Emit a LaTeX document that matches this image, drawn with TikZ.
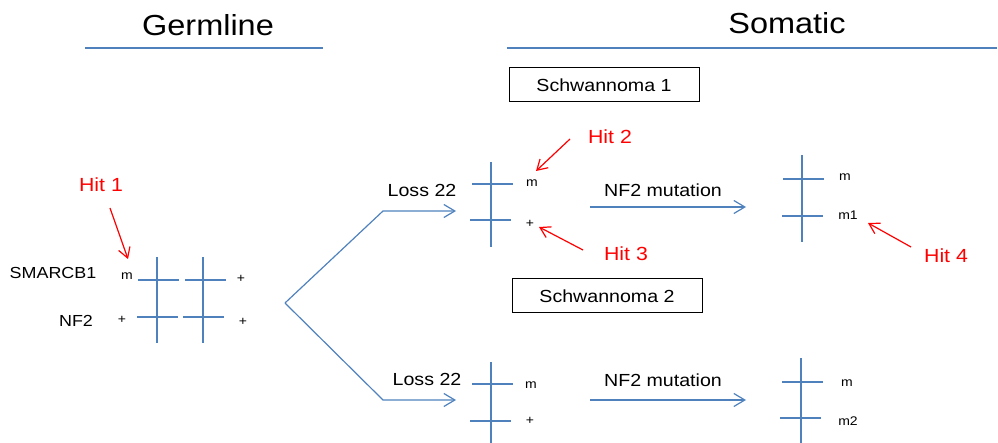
\documentclass[tikz,border=0pt]{standalone}
\usepackage{fontspec}
\setmainfont{Liberation Sans}[FakeStretch=1.12]
\usetikzlibrary{arrows.meta}
\definecolor{chblue}{RGB}{79,129,189}
\tikzset{
  chrom/.style={draw=chblue, line width=1.3pt},
  bluearrow/.style={draw=chblue, line width=1.2pt, -{Straight Barb[length=11pt,width=13pt,line width=1.2pt]}},
  redarrow/.style={draw=red, line width=1.2pt, -{Straight Barb[length=10pt,width=12pt,line width=1.2pt]}},
  head/.style={inner sep=0pt, font=\fontsize{29}{34}\selectfont},
  hit/.style={inner sep=0pt, text=red, font=\fontsize{19}{22}\selectfont},
  lbl/.style={inner sep=0pt, font=\fontsize{17.5}{20}\selectfont},
  gene/.style={inner sep=0pt, font=\fontsize{16}{19}\selectfont},
  allele/.style={inner sep=0pt, font=\fontsize{12.5}{15}\selectfont},
  tumbox/.style={draw=black, line width=1pt, minimum width=190pt, minimum height=34pt, inner sep=0pt, font=\fontsize{17.5}{20}\selectfont}
}
\begin{document}
\begin{tikzpicture}[x=1pt,y=-1pt]
\useasboundingbox (0,0) rectangle (998,443);
% headings
\node[head] (germ) at (208,25) {Germline};
\node[head] (soma) at (787,23) {Somatic};
\draw[chblue, line width=1.5pt] (85,48) -- (323,48);
\draw[chblue, line width=1.5pt] (507,48) -- (997,48);
% boxes
\node[tumbox] (s1) at (604,85) {Schwannoma 1};
\node[tumbox] (s2) at (607,296) {Schwannoma 2};
% germline chromosomes
\draw[chrom] (157,257) -- (157,343);
\draw[chrom] (203,257) -- (203,343);
\draw[chrom] (138,280) -- (179,280);
\draw[chrom] (185,280) -- (226,280);
\draw[chrom] (137,317) -- (178,317);
\draw[chrom] (183,317) -- (224,317);
\node[gene] (smarc) at (53,273) {SMARCB1};
\node[gene] (nf2) at (76,321) {NF2};
\node[allele] (gm) at (127,276) {m};
\node[allele] (gp1) at (241,279) {+};
\node[allele] (gp2) at (122,320) {+};
\node[allele] (gp3) at (243,322) {+};
\node[hit] (hit1) at (101,185) {Hit 1};
\coordinate (h1s) at (110,208);
\coordinate (h1e) at (128,259);
\draw[redarrow] (h1s) -- (h1e);
% branching
\coordinate (apex) at (285,303);
\coordinate (topk) at (383,211);
\coordinate (topend) at (456,211);
\coordinate (botk) at (383,400);
\coordinate (botend) at (456,400);
\draw[bluearrow] (apex) -- (topk) -- (topend);
\draw[bluearrow] (apex) -- (botk) -- (botend);
\node[lbl] (loss1) at (422,190) {Loss 22};
\node[lbl] (loss2) at (427,379) {Loss 22};
% top middle chromosome
\draw[chrom] (491,162) -- (491,247);
\draw[chrom] (472,184) -- (513,184);
\draw[chrom] (470,220) -- (511,220);
\node[allele] (tm) at (532,183) {m};
\node[allele] (tp) at (530,224) {+};
\node[hit] (hit2) at (610,137) {Hit 2};
\node[hit] (hit3) at (626,254) {Hit 3};
\coordinate (h2s) at (570,139);
\coordinate (h2e) at (536,171);
\coordinate (h3s) at (583,250);
\coordinate (h3e) at (539,227);
\draw[redarrow] (h2s) -- (h2e);
\draw[redarrow] (h3s) -- (h3e);
% NF2 mutation arrows
\node[lbl] (mut1) at (663,190) {NF2 mutation};
\node[lbl] (mut2) at (663,380) {NF2 mutation};
\coordinate (m1s) at (590,207);
\coordinate (m1e) at (746,207);
\coordinate (m2s) at (590,400);
\coordinate (m2e) at (746,400);
\draw[bluearrow] (m1s) -- (m1e);
\draw[bluearrow] (m2s) -- (m2e);
% top right chromosome
\draw[chrom] (802,155) -- (802,242);
\draw[chrom] (783,179) -- (824,179);
\draw[chrom] (782,216) -- (823,216);
\node[allele] (rm) at (845,177) {m};
\node[allele] (rm1) at (848,215) {m1};
\node[hit] (hit4) at (946,256) {Hit 4};
\coordinate (h4s) at (911,247);
\coordinate (h4e) at (868,223);
\draw[redarrow] (h4s) -- (h4e);
% bottom middle chromosome
\draw[chrom] (491,362) -- (491,443);
\draw[chrom] (472,384) -- (513,384);
\draw[chrom] (470,421) -- (511,421);
\node[allele] (bm) at (531,385) {m};
\node[allele] (bp) at (530,421) {+};
% bottom right chromosome
\draw[chrom] (801,358) -- (801,443);
\draw[chrom] (782,382) -- (823,382);
\draw[chrom] (780,418) -- (821,418);
\node[allele] (brm) at (847,383) {m};
\node[allele] (brm2) at (848,421) {m2};
\end{tikzpicture}
\end{document}
